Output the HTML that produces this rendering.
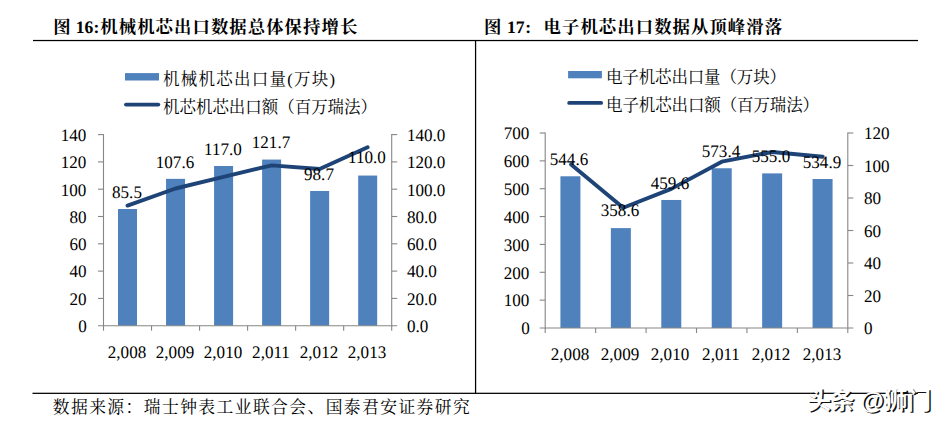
<!DOCTYPE html>
<html lang="zh"><head><meta charset="utf-8"><title>chart</title>
<style>
html,body{margin:0;padding:0;background:#fff}
body{width:946px;height:426px;position:relative;overflow:hidden;font-family:"Liberation Serif",serif;color:#000}
svg{position:absolute;left:0;top:0}
.t{position:absolute;white-space:nowrap;line-height:20px;text-rendering:geometricPrecision;font-family:"Liberation Serif",serif;color:#000}
.h{position:absolute;white-space:nowrap;color:transparent;font-family:"Liberation Serif",serif;overflow:hidden}
</style></head><body>
<svg width="946" height="426" viewBox="0 0 946 426">
<rect x="33.00" y="39.90" width="885.00" height="1.25" fill="#000"/>
<rect x="474.95" y="40.00" width="1.25" height="353.90" fill="#000"/>
<rect x="32.50" y="392.70" width="885.50" height="1.25" fill="#000"/>
<rect x="118.02" y="208.99" width="19.00" height="116.71" fill="#4f81bd"/>
<rect x="166.05" y="178.83" width="19.00" height="146.87" fill="#4f81bd"/>
<rect x="214.08" y="165.99" width="19.00" height="159.71" fill="#4f81bd"/>
<rect x="262.12" y="159.58" width="19.00" height="166.12" fill="#4f81bd"/>
<rect x="310.15" y="190.97" width="19.00" height="134.73" fill="#4f81bd"/>
<rect x="358.18" y="175.55" width="19.00" height="150.15" fill="#4f81bd"/>
<line x1="103.50" y1="134.10" x2="103.50" y2="326.20" stroke="#868686" stroke-width="1.10"/>
<line x1="391.70" y1="134.10" x2="391.70" y2="326.20" stroke="#868686" stroke-width="1.10"/>
<line x1="98.00" y1="325.70" x2="397.20" y2="325.70" stroke="#868686" stroke-width="1.10"/>
<line x1="98.00" y1="298.40" x2="103.50" y2="298.40" stroke="#868686" stroke-width="1.10"/>
<line x1="98.00" y1="271.10" x2="103.50" y2="271.10" stroke="#868686" stroke-width="1.10"/>
<line x1="98.00" y1="243.80" x2="103.50" y2="243.80" stroke="#868686" stroke-width="1.10"/>
<line x1="98.00" y1="216.50" x2="103.50" y2="216.50" stroke="#868686" stroke-width="1.10"/>
<line x1="98.00" y1="189.20" x2="103.50" y2="189.20" stroke="#868686" stroke-width="1.10"/>
<line x1="98.00" y1="161.90" x2="103.50" y2="161.90" stroke="#868686" stroke-width="1.10"/>
<line x1="98.00" y1="134.60" x2="103.50" y2="134.60" stroke="#868686" stroke-width="1.10"/>
<line x1="391.70" y1="298.40" x2="397.20" y2="298.40" stroke="#868686" stroke-width="1.10"/>
<line x1="391.70" y1="271.10" x2="397.20" y2="271.10" stroke="#868686" stroke-width="1.10"/>
<line x1="391.70" y1="243.80" x2="397.20" y2="243.80" stroke="#868686" stroke-width="1.10"/>
<line x1="391.70" y1="216.50" x2="397.20" y2="216.50" stroke="#868686" stroke-width="1.10"/>
<line x1="391.70" y1="189.20" x2="397.20" y2="189.20" stroke="#868686" stroke-width="1.10"/>
<line x1="391.70" y1="161.90" x2="397.20" y2="161.90" stroke="#868686" stroke-width="1.10"/>
<line x1="391.70" y1="134.60" x2="397.20" y2="134.60" stroke="#868686" stroke-width="1.10"/>
<line x1="103.50" y1="325.70" x2="103.50" y2="330.70" stroke="#868686" stroke-width="1.10"/>
<line x1="151.53" y1="325.70" x2="151.53" y2="330.70" stroke="#868686" stroke-width="1.10"/>
<line x1="199.57" y1="325.70" x2="199.57" y2="330.70" stroke="#868686" stroke-width="1.10"/>
<line x1="247.60" y1="325.70" x2="247.60" y2="330.70" stroke="#868686" stroke-width="1.10"/>
<line x1="295.63" y1="325.70" x2="295.63" y2="330.70" stroke="#868686" stroke-width="1.10"/>
<line x1="343.67" y1="325.70" x2="343.67" y2="330.70" stroke="#868686" stroke-width="1.10"/>
<line x1="391.70" y1="325.70" x2="391.70" y2="330.70" stroke="#868686" stroke-width="1.10"/>
<polyline points="127.5,205.6 175.5,188.5 223.5,176.8 271.6,165.4 319.6,169.0 367.6,147.3" fill="none" stroke="#1e4477" stroke-width="3.9" stroke-linecap="round" stroke-linejoin="round"/>
<rect x="560.42" y="176.29" width="20.00" height="151.71" fill="#4f81bd"/>
<rect x="610.85" y="228.10" width="20.00" height="99.90" fill="#4f81bd"/>
<rect x="661.28" y="199.97" width="20.00" height="128.03" fill="#4f81bd"/>
<rect x="711.72" y="168.27" width="20.00" height="159.73" fill="#4f81bd"/>
<rect x="762.15" y="173.39" width="20.00" height="154.61" fill="#4f81bd"/>
<rect x="812.58" y="178.99" width="20.00" height="149.01" fill="#4f81bd"/>
<line x1="545.20" y1="132.50" x2="545.20" y2="328.50" stroke="#868686" stroke-width="1.10"/>
<line x1="847.80" y1="132.50" x2="847.80" y2="328.50" stroke="#868686" stroke-width="1.10"/>
<line x1="539.70" y1="328.00" x2="853.30" y2="328.00" stroke="#868686" stroke-width="1.10"/>
<line x1="539.70" y1="300.14" x2="545.20" y2="300.14" stroke="#868686" stroke-width="1.10"/>
<line x1="539.70" y1="272.29" x2="545.20" y2="272.29" stroke="#868686" stroke-width="1.10"/>
<line x1="539.70" y1="244.43" x2="545.20" y2="244.43" stroke="#868686" stroke-width="1.10"/>
<line x1="539.70" y1="216.57" x2="545.20" y2="216.57" stroke="#868686" stroke-width="1.10"/>
<line x1="539.70" y1="188.71" x2="545.20" y2="188.71" stroke="#868686" stroke-width="1.10"/>
<line x1="539.70" y1="160.86" x2="545.20" y2="160.86" stroke="#868686" stroke-width="1.10"/>
<line x1="539.70" y1="133.00" x2="545.20" y2="133.00" stroke="#868686" stroke-width="1.10"/>
<line x1="847.80" y1="295.50" x2="853.30" y2="295.50" stroke="#868686" stroke-width="1.10"/>
<line x1="847.80" y1="263.00" x2="853.30" y2="263.00" stroke="#868686" stroke-width="1.10"/>
<line x1="847.80" y1="230.50" x2="853.30" y2="230.50" stroke="#868686" stroke-width="1.10"/>
<line x1="847.80" y1="198.00" x2="853.30" y2="198.00" stroke="#868686" stroke-width="1.10"/>
<line x1="847.80" y1="165.50" x2="853.30" y2="165.50" stroke="#868686" stroke-width="1.10"/>
<line x1="847.80" y1="133.00" x2="853.30" y2="133.00" stroke="#868686" stroke-width="1.10"/>
<line x1="545.20" y1="328.00" x2="545.20" y2="333.00" stroke="#868686" stroke-width="1.10"/>
<line x1="595.63" y1="328.00" x2="595.63" y2="333.00" stroke="#868686" stroke-width="1.10"/>
<line x1="646.07" y1="328.00" x2="646.07" y2="333.00" stroke="#868686" stroke-width="1.10"/>
<line x1="696.50" y1="328.00" x2="696.50" y2="333.00" stroke="#868686" stroke-width="1.10"/>
<line x1="746.93" y1="328.00" x2="746.93" y2="333.00" stroke="#868686" stroke-width="1.10"/>
<line x1="797.37" y1="328.00" x2="797.37" y2="333.00" stroke="#868686" stroke-width="1.10"/>
<line x1="847.80" y1="328.00" x2="847.80" y2="333.00" stroke="#868686" stroke-width="1.10"/>
<polyline points="571.1,164.4 623.2,207.8 671.3,188.9 721.8,161.7 772.2,152.0 822.7,156.7" fill="none" stroke="#1e4477" stroke-width="3.9" stroke-linecap="round" stroke-linejoin="round"/>
<rect x="125.00" y="73.10" width="34.00" height="7.40" fill="#4f81bd"/>
<line x1="126.00" y1="104.60" x2="158.30" y2="104.60" stroke="#1e4477" stroke-width="3.90" stroke-linecap="round"/>
<rect x="568.10" y="71.00" width="33.80" height="7.30" fill="#4f81bd"/>
<line x1="569.20" y1="102.90" x2="601.10" y2="102.90" stroke="#1e4477" stroke-width="3.90" stroke-linecap="round"/>
<g fill="#000" font-family='"Liberation Serif", "Noto Serif CJK SC", serif'>
<text x="163" y="85.4" font-size="16.5" textLength="172" lengthAdjust="spacing">机械机芯出口量(万块)</text>
<text x="163" y="112.7" font-size="16.5" textLength="214" lengthAdjust="spacing">机芯机芯出口额（百万瑞法）</text>
<text x="606" y="83.1" font-size="16.5" textLength="180" lengthAdjust="spacing">电子机芯出口量（万块）</text>
<text x="606" y="111.3" font-size="16.5" textLength="213" lengthAdjust="spacing">电子机芯出口额（百万瑞法）</text>
<text x="53.3" y="33" font-size="17.4" font-weight="bold">图</text>
<text x="100.3" y="33" font-size="17.4" font-weight="bold" textLength="257" lengthAdjust="spacing">机械机芯出口数据总体保持增长</text>
<text x="483.9" y="33" font-size="17.4" font-weight="bold">图</text>
<text x="543.6" y="33" font-size="17.4" font-weight="bold" textLength="238.5" lengthAdjust="spacing">电子机芯出口数据从顶峰滑落</text>
<text x="52.8" y="413" font-size="16.8" textLength="417" lengthAdjust="spacing">数据来源：瑞士钟表工业联合会、国泰君安证券研究</text>
</g>
</svg>
<div class="t" style="top:316px;font-size:17.60px;right:859.40px;text-align:right;transform:scaleX(0.970);transform-origin:right center;">0</div>
<div class="t" style="top:289px;font-size:17.60px;right:859.40px;text-align:right;transform:scaleX(0.970);transform-origin:right center;">20</div>
<div class="t" style="top:261px;font-size:17.60px;right:859.40px;text-align:right;transform:scaleX(0.970);transform-origin:right center;">40</div>
<div class="t" style="top:234px;font-size:17.60px;right:859.40px;text-align:right;transform:scaleX(0.970);transform-origin:right center;">60</div>
<div class="t" style="top:207px;font-size:17.60px;right:859.40px;text-align:right;transform:scaleX(0.970);transform-origin:right center;">80</div>
<div class="t" style="top:180px;font-size:17.60px;right:859.40px;text-align:right;transform:scaleX(0.970);transform-origin:right center;">100</div>
<div class="t" style="top:152px;font-size:17.60px;right:859.40px;text-align:right;transform:scaleX(0.970);transform-origin:right center;">120</div>
<div class="t" style="top:125px;font-size:17.60px;right:859.40px;text-align:right;transform:scaleX(0.970);transform-origin:right center;">140</div>
<div class="t" style="top:316px;font-size:17.60px;left:406.50px;transform:scaleX(0.970);transform-origin:left center;">0.0</div>
<div class="t" style="top:289px;font-size:17.60px;left:406.50px;transform:scaleX(0.970);transform-origin:left center;">20.0</div>
<div class="t" style="top:261px;font-size:17.60px;left:406.50px;transform:scaleX(0.970);transform-origin:left center;">40.0</div>
<div class="t" style="top:234px;font-size:17.60px;left:406.50px;transform:scaleX(0.970);transform-origin:left center;">60.0</div>
<div class="t" style="top:207px;font-size:17.60px;left:406.50px;transform:scaleX(0.970);transform-origin:left center;">80.0</div>
<div class="t" style="top:180px;font-size:17.60px;left:406.50px;transform:scaleX(0.970);transform-origin:left center;">100.0</div>
<div class="t" style="top:152px;font-size:17.60px;left:406.50px;transform:scaleX(0.970);transform-origin:left center;">120.0</div>
<div class="t" style="top:125px;font-size:17.60px;left:406.50px;transform:scaleX(0.970);transform-origin:left center;">140.0</div>
<div class="t" style="top:182px;font-size:17.60px;left:66.52px;width:120px;text-align:center;transform:scaleX(0.970);transform-origin:center center;">85.5</div>
<div class="t" style="top:342px;font-size:17.60px;left:66.72px;width:120px;text-align:center;transform:scaleX(0.970);transform-origin:center center;">2,008</div>
<div class="t" style="top:152px;font-size:17.60px;left:114.55px;width:120px;text-align:center;transform:scaleX(0.970);transform-origin:center center;">107.6</div>
<div class="t" style="top:342px;font-size:17.60px;left:114.75px;width:120px;text-align:center;transform:scaleX(0.970);transform-origin:center center;">2,009</div>
<div class="t" style="top:139px;font-size:17.60px;left:162.58px;width:120px;text-align:center;transform:scaleX(0.970);transform-origin:center center;">117.0</div>
<div class="t" style="top:342px;font-size:17.60px;left:162.78px;width:120px;text-align:center;transform:scaleX(0.970);transform-origin:center center;">2,010</div>
<div class="t" style="top:132px;font-size:17.60px;left:210.62px;width:120px;text-align:center;transform:scaleX(0.970);transform-origin:center center;">121.7</div>
<div class="t" style="top:342px;font-size:17.60px;left:210.82px;width:120px;text-align:center;transform:scaleX(0.970);transform-origin:center center;">2,011</div>
<div class="t" style="top:164px;font-size:17.60px;left:258.65px;width:120px;text-align:center;transform:scaleX(0.970);transform-origin:center center;">98.7</div>
<div class="t" style="top:342px;font-size:17.60px;left:258.85px;width:120px;text-align:center;transform:scaleX(0.970);transform-origin:center center;">2,012</div>
<div class="t" style="top:147px;font-size:17.60px;left:306.68px;width:120px;text-align:center;transform:scaleX(0.970);transform-origin:center center;">110.0</div>
<div class="t" style="top:342px;font-size:17.60px;left:306.88px;width:120px;text-align:center;transform:scaleX(0.970);transform-origin:center center;">2,013</div>
<div class="t" style="top:318px;font-size:17.60px;right:416.20px;text-align:right;transform:scaleX(0.970);transform-origin:right center;">0</div>
<div class="t" style="top:290px;font-size:17.60px;right:416.20px;text-align:right;transform:scaleX(0.970);transform-origin:right center;">100</div>
<div class="t" style="top:263px;font-size:17.60px;right:416.20px;text-align:right;transform:scaleX(0.970);transform-origin:right center;">200</div>
<div class="t" style="top:235px;font-size:17.60px;right:416.20px;text-align:right;transform:scaleX(0.970);transform-origin:right center;">300</div>
<div class="t" style="top:207px;font-size:17.60px;right:416.20px;text-align:right;transform:scaleX(0.970);transform-origin:right center;">400</div>
<div class="t" style="top:179px;font-size:17.60px;right:416.20px;text-align:right;transform:scaleX(0.970);transform-origin:right center;">500</div>
<div class="t" style="top:151px;font-size:17.60px;right:416.20px;text-align:right;transform:scaleX(0.970);transform-origin:right center;">600</div>
<div class="t" style="top:123px;font-size:17.60px;right:416.20px;text-align:right;transform:scaleX(0.970);transform-origin:right center;">700</div>
<div class="t" style="top:318px;font-size:17.60px;left:864.00px;transform:scaleX(0.970);transform-origin:left center;">0</div>
<div class="t" style="top:286px;font-size:17.60px;left:864.00px;transform:scaleX(0.970);transform-origin:left center;">20</div>
<div class="t" style="top:253px;font-size:17.60px;left:864.00px;transform:scaleX(0.970);transform-origin:left center;">40</div>
<div class="t" style="top:221px;font-size:17.60px;left:864.00px;transform:scaleX(0.970);transform-origin:left center;">60</div>
<div class="t" style="top:188px;font-size:17.60px;left:864.00px;transform:scaleX(0.970);transform-origin:left center;">80</div>
<div class="t" style="top:156px;font-size:17.60px;left:864.00px;transform:scaleX(0.970);transform-origin:left center;">100</div>
<div class="t" style="top:123px;font-size:17.60px;left:864.00px;transform:scaleX(0.970);transform-origin:left center;">120</div>
<div class="t" style="top:149px;font-size:17.60px;left:509.42px;width:120px;text-align:center;transform:scaleX(0.970);transform-origin:center center;">544.6</div>
<div class="t" style="top:344px;font-size:17.60px;left:509.62px;width:120px;text-align:center;transform:scaleX(0.970);transform-origin:center center;">2,008</div>
<div class="t" style="top:200px;font-size:17.60px;left:559.85px;width:120px;text-align:center;transform:scaleX(0.970);transform-origin:center center;">358.6</div>
<div class="t" style="top:344px;font-size:17.60px;left:560.05px;width:120px;text-align:center;transform:scaleX(0.970);transform-origin:center center;">2,009</div>
<div class="t" style="top:173px;font-size:17.60px;left:610.28px;width:120px;text-align:center;transform:scaleX(0.970);transform-origin:center center;">459.6</div>
<div class="t" style="top:344px;font-size:17.60px;left:610.48px;width:120px;text-align:center;transform:scaleX(0.970);transform-origin:center center;">2,010</div>
<div class="t" style="top:141px;font-size:17.60px;left:660.72px;width:120px;text-align:center;transform:scaleX(0.970);transform-origin:center center;">573.4</div>
<div class="t" style="top:344px;font-size:17.60px;left:660.92px;width:120px;text-align:center;transform:scaleX(0.970);transform-origin:center center;">2,011</div>
<div class="t" style="top:146px;font-size:17.60px;left:711.15px;width:120px;text-align:center;transform:scaleX(0.970);transform-origin:center center;">555.0</div>
<div class="t" style="top:344px;font-size:17.60px;left:711.35px;width:120px;text-align:center;transform:scaleX(0.970);transform-origin:center center;">2,012</div>
<div class="t" style="top:152px;font-size:17.60px;left:761.58px;width:120px;text-align:center;transform:scaleX(0.970);transform-origin:center center;">534.9</div>
<div class="t" style="top:344px;font-size:17.60px;left:761.78px;width:120px;text-align:center;transform:scaleX(0.970);transform-origin:center center;">2,013</div>
<div class="t" style="top:17px;font-size:17.60px;left:75.80px;font-weight:bold;">16:</div>
<div class="t" style="top:17px;font-size:17.60px;left:507.00px;font-weight:bold;">17</div>
<div class="t" style="top:17px;font-size:17.60px;left:525.30px;font-weight:bold;">:</div>
<svg width="946" height="426" viewBox="0 0 946 426">
<text x="808.5" y="410.2" font-size="24" font-weight="bold" fill="#111" font-family='"Liberation Sans", "Noto Sans CJK SC", sans-serif' textLength="124" lengthAdjust="spacing">头条 @狮门</text>
<text x="806.9" y="408.7" font-size="24" font-weight="bold" fill="#fff" font-family='"Liberation Sans", "Noto Sans CJK SC", sans-serif' textLength="124" lengthAdjust="spacing">头条 @狮门</text>
</svg>
<div class="h" style="left:53px;top:18px;width:18px;height:20px;font-size:18.4px;line-height:20px">图</div>
<div class="h" style="left:100px;top:18px;width:258px;height:20px;font-size:18.4px;line-height:20px">机械机芯出口数据总体保持增长</div>
<div class="h" style="left:484px;top:18px;width:18px;height:20px;font-size:18.4px;line-height:20px">图</div>
<div class="h" style="left:543px;top:18px;width:240px;height:20px;font-size:18.4px;line-height:20px">电子机芯出口数据从顶峰滑落</div>
<div class="h" style="left:162px;top:71px;width:176px;height:18px;font-size:17.4px;line-height:18px">机械机芯出口量(万块)</div>
<div class="h" style="left:162px;top:98px;width:218px;height:18px;font-size:17.4px;line-height:18px">机芯机芯出口额（百万瑞法）</div>
<div class="h" style="left:606px;top:69px;width:184px;height:18px;font-size:17.4px;line-height:18px">电子机芯出口量（万块）</div>
<div class="h" style="left:606px;top:96px;width:218px;height:18px;font-size:17.4px;line-height:18px">电子机芯出口额（百万瑞法）</div>
<div class="h" style="left:52px;top:398px;width:420px;height:18px;font-size:18.2px;line-height:18px">数据来源：瑞士钟表工业联合会、国泰君安证券研究</div>
<div class="h" style="left:806px;top:386px;width:128px;height:28px;font-size:24.4px;line-height:28px">头条 @狮门</div>
</body></html>
